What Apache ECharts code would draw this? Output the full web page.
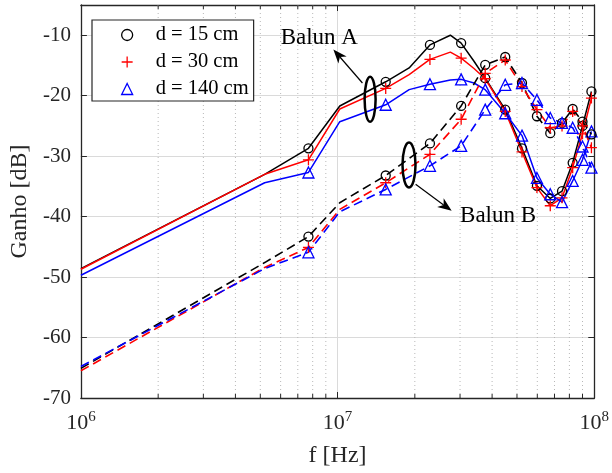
<!DOCTYPE html>
<html>
<head>
<meta charset="utf-8">
<script src="https://cdn.jsdelivr.net/npm/echarts@6/dist/echarts.min.js"></script>
<style>
  html, body { margin: 0; padding: 0; background: #fff; }
  #chart { width: 612px; height: 473px; }
</style>
</head>
<body>
<div id="chart"></div>
<script>
const FONT = '"Liberation Serif", "Times New Roman", serif';
const AXIS_COLOR = '#262626';

// Axis ranges
const xMin = 1e6, xMax = 1e8;
const yMin = -70, yMax = -5, yStep = 10;

// Frequencies (MHz) of the curve vertices
const freqA = [1, 5.2, 7.7, 10.2, 15.4, 19, 22.9, 27.5, 30.3, 34, 37.6, 45, 52.3, 59.8, 67.4, 74.9, 82.4, 90, 97.5];
const freqB = [1, 5.2, 7.7, 10.2, 15.4, 22.9, 30.3, 37.6, 45, 52.3, 59.8, 67.4, 74.9, 82.4, 90, 97.5];
// Frequencies (MHz) where a marker is drawn
const markerFreq = [7.7, 15.4, 22.9, 30.3, 37.6, 45, 52.3, 59.8, 67.4, 74.9, 82.4, 90, 97.5];

// Balun A gain [dB] (solid curves)
const balunA_d15  = [-48.6, -33.0, -28.7, -21.7, -17.7, -15.4, -11.6, -10.0, -11.3, -14.3, -17.1, -22.3, -28.7, -34.9, -37.0, -35.8, -31.1, -25.0, -19.3];
const balunA_d30  = [-48.7, -33.0, -30.6, -22.2, -18.8, -16.5, -14.0, -12.8, -13.8, -15.5, -17.2, -22.6, -29.3, -35.2, -38.2, -36.9, -31.9, -26.3, -20.4];
const balunA_d140 = [-49.7, -34.4, -32.7, -24.3, -21.5, -19.0, -18.1, -17.4, -17.3, -17.9, -19.0, -22.9, -26.6, -33.6, -36.3, -37.6, -34.1, -30.6, -25.9];

// Balun B gain [dB] (dashed curves)
const balunB_d15  = [-65.1, -47.6, -43.3, -37.7, -33.2, -27.9, -21.7, -14.9, -13.6, -17.9, -23.4, -26.2, -24.5, -22.2, -24.3, -26.4];
const balunB_d30  = [-65.5, -48.4, -45.1, -38.8, -34.4, -29.7, -23.9, -16.3, -14.1, -18.5, -22.3, -25.3, -25.0, -22.6, -25.0, -28.6];
const balunB_d140 = [-64.8, -48.6, -45.9, -39.2, -35.5, -31.6, -28.3, -22.3, -18.2, -17.9, -20.7, -23.7, -24.5, -25.3, -28.4, -31.9];

// Legend entries
const legendNames = ['d = 15 cm', 'd = 30 cm', 'd = 140 cm'];
const colors = ['#000000', '#ff0000', '#0000ff'];

// Minor decade positions for the dotted grid
const minorFreq = [2e6, 3e6, 4e6, 5e6, 6e6, 7e6, 8e6, 9e6, 2e7, 3e7, 4e7, 5e7, 6e7, 7e7, 8e7, 9e7];

const PLUS = 'path://M0,5L10,5M5,0L5,10';
const symbols = ['circle', PLUS, 'triangle'];
const symbolSizes = [9, 11, 11];

function buildData(freq, vals) {
  return freq.map((f, i) => {
    const item = { value: [f * 1e6, vals[i]] };
    if (markerFreq.indexOf(f) < 0) item.symbol = 'none';
    return item;
  });
}

function curve(name, idx, freq, vals, dashed) {
  return {
    type: 'line',
    name: name,
    xAxisIndex: 0, yAxisIndex: 0,
    data: buildData(freq, vals),
    symbol: symbols[idx],
    symbolSize: symbolSizes[idx],
    showSymbol: true,
    showAllSymbol: true,
    lineStyle: { color: colors[idx], width: dashed ? 1.6 : 1.5, type: dashed ? [9, 5] : 'solid' },
    itemStyle: { color: 'rgba(0,0,0,0)', borderColor: colors[idx], borderWidth: 1.3 },
    emphasis: { disabled: true },
    z: 3
  };
}

const chart = echarts.init(document.getElementById('chart'), null, { renderer: 'canvas' });

const option = {
  animation: false,
  backgroundColor: '#fff',
  grid: { left: 77, right: 14, top: 5, bottom: 73, containLabel: false },
  legend: {
    show: true,
    orient: 'vertical',
    left: 92, top: 20,
    padding: [4, 5, 1, 29],
    itemGap: 5,
    itemWidth: 11, itemHeight: 11,
    symbolKeepAspect: true,
    backgroundColor: '#fff',
    borderColor: AXIS_COLOR, borderWidth: 1.2, borderRadius: 0,
    textStyle: { fontFamily: FONT, fontSize: 20.5, lineHeight: 22, color: '#000', padding: [0, 0, 0, 18] },
    selectedMode: false,
    data: legendNames.map((n, i) => ({
      name: n,
      icon: symbols[i],
      itemStyle: { color: 'rgba(0,0,0,0)', borderColor: colors[i], borderWidth: 1.3 }
    }))
  },
  xAxis: [{
    type: 'log', logBase: 10, min: xMin, max: xMax,
    position: 'bottom',
    name: 'f [Hz]', nameLocation: 'middle', nameGap: 46,
    nameTextStyle: { fontFamily: FONT, fontSize: 24, color: AXIS_COLOR },
    axisLine: { show: true, lineStyle: { color: AXIS_COLOR, width: 1.3 } },
    axisTick: { show: true, inside: true, length: 6, lineStyle: { color: AXIS_COLOR, width: 1 } },
    axisLabel: {
      margin: 12,
      formatter: v => '{b|10}{e|' + Math.round(Math.log10(v)) + '}',
      rich: {
        b: { fontFamily: FONT, fontSize: 22, color: AXIS_COLOR },
        e: { fontFamily: FONT, fontSize: 15, color: AXIS_COLOR, padding: [0, 0, 12, 0] }
      }
    },
    splitLine: { show: true, lineStyle: { color: '#dadada', width: 1 } }
  }, {
    type: 'log', logBase: 10, min: xMin, max: xMax,
    position: 'top',
    axisLine: { show: true, lineStyle: { color: AXIS_COLOR, width: 1.3 } },
    axisTick: { show: true, inside: true, length: 6, lineStyle: { color: AXIS_COLOR, width: 1 } },
    axisLabel: { show: false },
    splitLine: { show: false }
  }],
  yAxis: [{
    type: 'value', min: yMin, max: yMax, interval: yStep,
    position: 'left',
    name: 'Ganho [dB]', nameLocation: 'middle', nameGap: 47, nameRotate: 90,
    nameTextStyle: { fontFamily: FONT, fontSize: 24, color: AXIS_COLOR },
    axisLine: { show: true, lineStyle: { color: AXIS_COLOR, width: 1.3 } },
    axisTick: { show: true, inside: true, length: 6, lineStyle: { color: AXIS_COLOR, width: 1 } },
    axisLabel: {
      margin: 10, fontFamily: FONT, fontSize: 21, color: AXIS_COLOR,
      formatter: v => (v % yStep === 0 ? String(v) : '')
    },
    splitLine: { show: true, lineStyle: { color: '#dadada', width: 1 } }
  }, {
    type: 'value', min: yMin, max: yMax, interval: yStep,
    position: 'right',
    axisLine: { show: true, lineStyle: { color: AXIS_COLOR, width: 1.3 } },
    axisTick: { show: true, inside: true, length: 6, lineStyle: { color: AXIS_COLOR, width: 1 } },
    axisLabel: { show: false },
    splitLine: { show: false }
  }],
  series: [
    {
      // dotted minor grid and minor ticks of the log axis
      type: 'custom',
      name: 'minor',
      xAxisIndex: 0, yAxisIndex: 0,
      silent: true,
      z: 1,
      data: minorFreq.map(f => [f, yMin]),
      renderItem: (params, api) => {
        const f = api.value(0);
        const bot = api.coord([f, yMin]);
        const top = api.coord([f, yMax]);
        return {
          type: 'group',
          children: [
            { type: 'line', shape: { x1: bot[0], y1: bot[1], x2: top[0], y2: top[1] },
              style: { stroke: '#b8b8b8', lineWidth: 1, lineDash: [1, 3] } },
            { type: 'line', shape: { x1: bot[0], y1: bot[1], x2: bot[0], y2: bot[1] - 4 },
              style: { stroke: AXIS_COLOR, lineWidth: 1 } },
            { type: 'line', shape: { x1: top[0], y1: top[1], x2: top[0], y2: top[1] + 4 },
              style: { stroke: AXIS_COLOR, lineWidth: 1 } }
          ]
        };
      }
    },
    curve(legendNames[0], 0, freqA, balunA_d15, false),
    curve(legendNames[1], 1, freqA, balunA_d30, false),
    curve(legendNames[2], 2, freqA, balunA_d140, false),
    curve(legendNames[0], 0, freqB, balunB_d15, true),
    curve(legendNames[1], 1, freqB, balunB_d30, true),
    curve(legendNames[2], 2, freqB, balunB_d140, true)
  ]
};

chart.setOption(option);

// Annotations placed in data coordinates: labels, ellipses and arrows
const labelA = { text: 'Balun A', at: [6.0e6, -10.4] };
const labelB = { text: 'Balun B', at: [3.0e7, -39.9] };
const ellipseA = { at: [1.339e7, -20.6], rx: 5.5, ry: 22.5 };
const ellipseB = { at: [1.898e7, -31.45], rx: 6.5, ry: 22.5 };
const arrowA = { from: [1.25e7, -17.9], to: [9.63e6, -12.35] };
const arrowB = { from: [2.014e7, -34.66], to: [2.783e7, -39.05] };

function px(p) { return chart.convertToPixel({ gridIndex: 0 }, p); }

function arrow(a) {
  const t = px(a.from), p = px(a.to);
  const dx = p[0] - t[0], dy = p[1] - t[1];
  const len = Math.hypot(dx, dy);
  const ux = dx / len, uy = dy / len, nx = -uy, ny = ux;
  const L = 14, W = 5.5, notch = 4;
  const back = [p[0] - (L - notch) * ux, p[1] - (L - notch) * uy];
  return [
    { type: 'line', shape: { x1: t[0], y1: t[1], x2: back[0], y2: back[1] },
      style: { stroke: '#000', lineWidth: 1.2 }, z: 10 },
    { type: 'polygon', shape: { points: [
        p,
        [p[0] - L * ux + W * nx, p[1] - L * uy + W * ny],
        back,
        [p[0] - L * ux - W * nx, p[1] - L * uy - W * ny]
      ] }, style: { fill: '#000' }, z: 10 }
  ];
}

function ellipse(e) {
  const c = px(e.at);
  return { type: 'ellipse', shape: { cx: c[0], cy: c[1], rx: e.rx, ry: e.ry },
    style: { fill: 'none', stroke: '#000', lineWidth: 2.5 }, z: 10 };
}

function label(l) {
  const c = px(l.at);
  return { type: 'text', x: c[0], y: c[1], z: 10,
    style: { text: l.text, fill: '#000', font: '23px ' + FONT, textAlign: 'left', textVerticalAlign: 'middle' } };
}

chart.setOption({
  graphic: [
    label(labelA), label(labelB),
    ellipse(ellipseA), ellipse(ellipseB),
    ...arrow(arrowA), ...arrow(arrowB)
  ]
});
</script>
</body>
</html>
